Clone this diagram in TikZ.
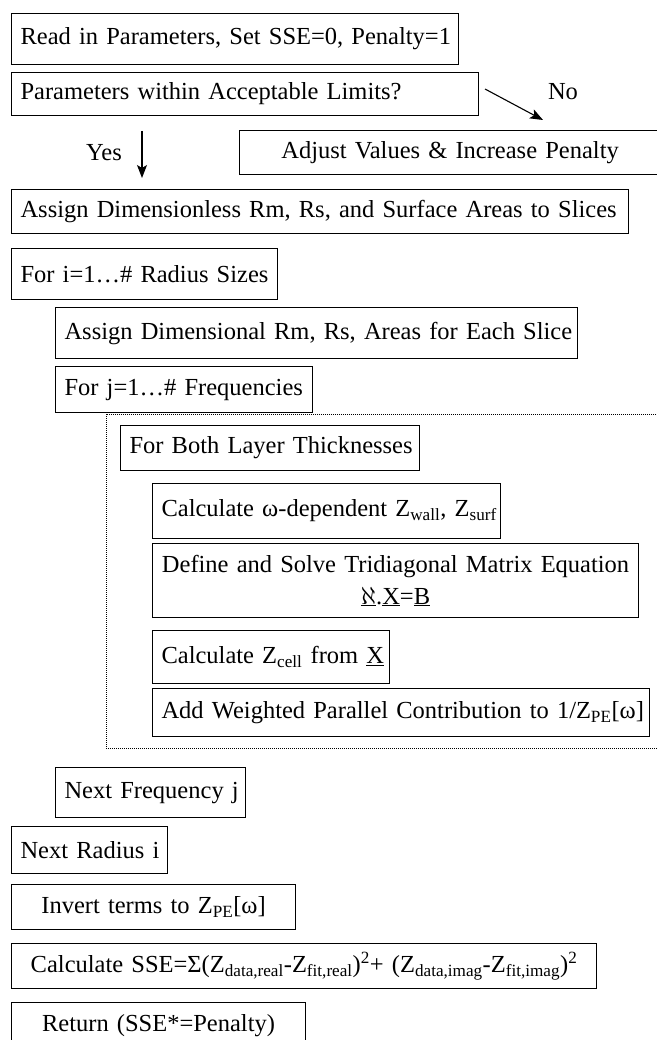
\documentclass[tikz,border=0pt]{standalone}
\usepackage{fontspec}
\setmainfont{Liberation Serif}
\usetikzlibrary{arrows.meta}
\begin{document}
\begin{tikzpicture}[x=1pt,y=-1pt,
  bx/.style={draw, line width=1.1pt, anchor=north west, inner xsep=9pt, inner ysep=0pt,
             align=left, font=\fontsize{24.5}{29}\selectfont},
  lbl/.style={inner sep=0pt, font=\fontsize{24.5}{29}\selectfont},
  arr/.style={line width=1.1pt, -{Stealth[length=13pt,width=10pt,inset=3pt]}},
  dotbox/.style={line width=0.8pt, dash pattern=on 1pt off 1pt}]
\useasboundingbox (0,0) rectangle (656,1040);

\node[bx, text width=429pt, minimum height=51pt] (b1) at (11,13) {\mbox{Read in Parameters, Set SSE=0, Penalty=1}};
\node[bx, text width=449pt, minimum height=43pt] (b2) at (11,72) {\mbox{Parameters within Acceptable Limits?}};
\node[bx, align=center, text width=403pt, minimum height=44pt] (adj) at (239,130) {\mbox{Adjust Values \& Increase Penalty}};
\node[bx, text width=599pt, minimum height=44pt] (asg) at (11,189) {\mbox{Assign Dimensionless Rm, Rs, and Surface Areas to Slices}};
\node[bx, text width=248pt, minimum height=51pt] (fi) at (11,248) {\mbox{For i=1…\# Radius Sizes}};
\node[bx, text width=504pt, minimum height=51pt] (ad) at (55,307) {\mbox{Assign Dimensional Rm, Rs, Areas for Each Slice}};
\node[bx, text width=239pt, minimum height=46pt] (fj) at (55,366) {\mbox{For j=1…\# Frequencies}};

\draw[dotbox] (670,414) -- (106,414) -- (106,748) -- (670,748);

\node[bx, text width=281pt, minimum height=45pt] (lb) at (120,425) {\mbox{For Both Layer Thicknesses}};
\node[bx, text width=330pt, minimum height=55pt] (cw) at (152,483) {\mbox{Calculate ω-dependent Z\textsubscript{wall}, Z\textsubscript{surf}}};
\node[bx, inner xsep=8pt, align=center, text width=470pt, minimum height=74pt,
      font=\fontsize{24.5}{32}\selectfont] (ds) at (152,543)
  {\mbox{Define and Solve Tridiagonal Matrix Equation}\\ \mbox{\underline{$\aleph$}.\underline{X}=\underline{B}}};
\node[bx, text width=219pt, minimum height=53pt] (zc) at (152,630) {\mbox{Calculate Z\textsubscript{cell} from \underline{X}}};
\node[bx, text width=479pt, minimum height=48pt] (aw) at (152,688) {\mbox{Add Weighted Parallel Contribution to 1/Z\textsubscript{PE}[ω]}};

\node[bx, text width=172pt, minimum height=50pt] (nf) at (55,767) {\mbox{Next Frequency j}};
\node[bx, text width=138pt, minimum height=47pt] (nr) at (11,826) {\mbox{Next Radius i}};
\node[bx, align=center, text width=266pt, minimum height=45pt] (it) at (11,884) {\mbox{Invert terms to Z\textsubscript{PE}[ω]}};
\node[bx, align=center, text width=567pt, minimum height=45pt] (sse) at (11,943)
  {\mbox{Calculate SSE=Σ(Z\textsubscript{data,real}-Z\textsubscript{fit,real})\textsuperscript{2}+ (Z\textsubscript{data,imag}-Z\textsubscript{fit,imag})\textsuperscript{2}}};
\node[bx, align=center, text width=276pt, minimum height=46pt] (ret) at (11,1002) {\mbox{Return (SSE*=Penalty)}};

\coordinate (noS) at (485,89);
\coordinate (noE) at (543,120);
\draw[arr] (noS) -- (noE);
\node[lbl] (no) at (563,92) {No};

\coordinate (yS) at (142,131);
\coordinate (yE) at (142,178);
\draw[arr] (yS) -- (yE);
\node[lbl] (yes) at (104,153) {Yes};
\end{tikzpicture}
\end{document}
